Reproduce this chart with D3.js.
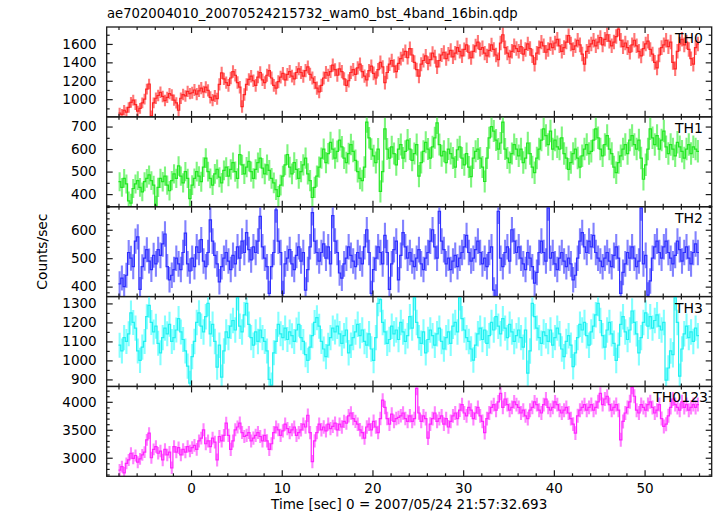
<!DOCTYPE html>
<html><head><meta charset="utf-8">
<script src="https://cdn.jsdelivr.net/npm/d3@7"></script>
<style>
body{margin:0;background:#fff}
svg text{font-family:"DejaVu Sans",sans-serif;fill:#000}
</style>
</head><body><svg id="c" width="717" height="516"></svg>
<script>
// ---- data (0.25 s bins starting at -8 s) ----
const binStart = -8, binWidth = 0.25;
const panelNames = ["TH0", "TH1", "TH2", "TH3", "TH0123"];

const th0 = [
850,835,880,860,910,965,990,940,870,900,960,1000,1110,1165,820,960,
1010,1040,1075,1030,985,1020,1060,1045,990,960,880,1010,1050,1035,1085,1060,
1070,1100,1055,1090,1120,1080,1130,1095,1020,990,1035,1005,1160,1285,1220,1180,
1150,1230,1300,1260,1180,1130,920,1050,1160,1215,1250,1200,1150,1240,1290,1210,
1180,1260,1310,1230,1150,1120,1190,1240,1280,1210,1270,1300,1250,1220,1290,1330,
1290,1250,1310,1350,1270,1230,1180,1120,1080,1150,1230,1290,1260,1300,1370,1320,
1260,1330,1300,1220,1150,1200,1290,1320,1270,1340,1380,1300,1250,1210,1310,1360,
1280,1230,1320,1400,1350,1180,1290,1380,1420,1360,1300,1390,1440,1480,1520,1450,
1550,1480,1400,1320,1250,1380,1420,1470,1390,1430,1500,1460,1350,1420,1480,1510,
1440,1490,1530,1460,1500,1560,1520,1470,1540,1590,1510,1450,1520,1580,1620,1540,
1560,1500,1470,1530,1590,1540,1480,1430,1610,1700,1560,1500,1460,1520,1580,1550,
1520,1570,1490,1540,1600,1550,1470,1380,1500,1560,1620,1580,1510,1540,1600,1560,
1610,1650,1580,1520,1560,1620,1690,1600,1540,1580,1640,1590,1490,1380,1520,1570,
1600,1640,1580,1620,1670,1590,1650,1700,1630,1580,1620,1680,1760,1640,1570,1610,
1560,1510,1590,1640,1580,1520,1470,1550,1600,1630,1540,1490,1400,1340,1480,1560,
1590,1640,1570,1620,1400,1330,1520,1600,1650,1590,1620,1540,1440,1380,1560,1600];

const th1 = [
455,430,470,445,370,360,425,445,460,430,410,455,470,485,460,440,
350,430,470,455,480,440,415,460,490,470,525,480,450,500,470,380,
440,470,500,480,455,520,560,500,470,440,490,510,475,450,505,520,
480,510,540,500,470,575,530,490,520,545,500,470,510,540,560,515,
490,530,505,470,450,420,390,440,480,530,575,520,490,540,510,470,
500,530,560,490,460,385,430,480,520,560,600,540,580,630,600,560,
590,640,610,560,540,580,620,590,550,500,470,460,520,720,650,600,
570,540,600,412,500,690,600,560,610,580,530,600,620,560,590,640,
600,550,580,620,480,540,590,630,600,560,610,650,716,620,570,590,
540,600,580,560,520,597,610,560,530,580,520,478,560,590,600,560,
520,456,560,650,700,680,640,600,627,720,600,560,540,580,620,600,
570,600,540,560,627,580,520,495,560,600,640,690,660,620,680,600,
640,610,600,650,580,560,510,540,580,600,560,520,570,600,620,580,
590,640,690,650,600,570,620,660,600,580,520,495,540,570,600,620,
580,640,660,620,600,640,560,466,530,600,690,650,620,660,600,640,
680,610,580,620,600,570,630,610,590,560,600,620,580,610,600,590];

const th2 = [
410,430,400,440,520,500,470,560,575,390,470,500,530,490,460,510,
480,530,510,550,585,470,424,440,460,500,480,460,520,588,480,455,
500,470,540,520,565,490,470,520,635,560,510,480,417,470,500,520,
490,460,510,480,540,500,560,520,590,530,494,540,520,560,647,540,
500,470,376,470,520,670,560,520,376,480,500,530,480,460,510,540,
490,520,388,460,540,660,560,520,490,520,550,500,540,480,650,560,
520,448,430,480,500,540,510,490,470,520,500,480,540,600,520,376,
460,500,540,520,480,580,520,390,480,530,560,424,510,590,540,500,
520,490,470,500,530,480,460,500,520,560,600,540,500,665,560,530,
480,500,460,490,510,470,500,520,540,580,520,490,500,530,560,520,
480,500,470,520,540,388,363,665,500,470,520,540,490,600,560,520,
540,500,480,460,520,500,470,412,450,520,560,520,490,677,500,520,
480,460,500,520,490,470,500,480,424,440,500,560,590,540,520,560,
540,580,520,500,490,470,500,520,490,470,510,540,500,376,450,480,
520,500,540,500,470,490,677,480,510,370,420,500,540,560,520,500,
540,560,520,500,480,510,560,530,490,520,540,500,480,520,550,520];

const th3 = [
1080,1050,1120,1100,1140,1250,1200,1170,1050,1000,1070,1100,1230,1290,1200,1150,
1180,1090,1040,1120,1170,1140,1190,1100,1120,1160,1220,1150,1110,1050,970,880,
1020,1100,1200,1250,1180,1150,1230,1300,1140,1190,1100,965,1080,912,1050,1150,
1120,1180,1210,1160,1330,1180,1150,1240,1300,1190,1120,1080,1150,1100,1160,1120,
1100,1050,900,870,1040,1100,1190,1140,1120,1170,1110,1150,1130,1100,1160,1190,
1120,1100,1030,1000,1070,1130,1200,1225,1180,1100,1060,1020,1080,1120,1170,1150,
1180,1140,1090,1130,1160,1040,1080,1120,1150,1190,1130,1160,1100,1080,1140,1060,
1000,1120,1300,1320,1200,1150,1090,1110,1180,1140,1160,1110,1200,1150,1100,1130,
1230,1170,1330,1200,1120,1090,1150,1040,1110,1160,1130,1080,1140,1170,1100,1060,
1120,1150,1090,1180,1200,1150,1330,1220,1160,1120,1100,1060,1002,1080,1140,1170,
1110,1160,1090,1130,1200,1160,1230,1180,1140,1220,1170,1120,1190,1150,1100,1130,
1160,1120,1070,1160,933,1050,1300,1230,1170,1120,1090,1150,1130,1100,1160,1080,
1120,1170,1140,1060,1020,1100,1130,1080,967,1040,1120,1190,1160,1200,1130,1080,
1150,1180,1240,1300,1210,1130,1070,1160,1200,1140,1090,1000,1080,1190,1230,1150,
1110,1160,1260,1200,1140,1040,1120,1200,1250,1180,1230,1170,1210,1240,1180,1160,
1200,896,960,1050,1030,1330,1200,917,1060,1140,1180,1120,1150,1100,1170,1130];

const th0123 = [
2780,2840,2730,2900,2960,3080,2990,3040,2920,2980,3050,3100,3320,3440,3000,3150,
3200,3080,3120,2960,3150,3050,3100,2820,3200,3100,3180,3050,3150,3100,3200,3120,
3180,3220,3150,3300,3350,3500,3250,3300,3200,3350,3280,2960,3380,3300,3400,3620,
3400,3150,3300,3500,3550,3620,3450,3380,3400,3450,3300,3350,3400,3450,3380,3300,
3400,3300,3150,3250,3450,3550,3500,3400,3480,3600,3520,3450,3500,3550,3400,3450,
3500,3600,3550,3760,3450,2930,3300,3450,3600,3500,3550,3480,3600,3520,3560,3620,
3500,3600,3550,3650,3620,3750,3800,3700,3650,3600,3500,3450,3350,3550,3600,3500,
3650,3550,3450,3700,4030,3900,3700,3600,3780,3650,3700,3720,3750,3800,3700,3650,
3750,3650,3700,4240,3800,3650,3750,3700,3350,3600,3700,3800,3650,3700,3750,3600,
3700,3550,3650,3750,3800,3700,3850,3950,3800,3750,3900,3850,3700,3800,3900,3750,
3650,3450,3700,3800,3900,3950,3850,4000,4150,3900,4050,3950,3850,3900,4000,3950,
3900,3800,3850,3750,3700,3850,3900,4000,3950,3850,3800,3950,4050,3900,3850,3900,
4000,3950,3850,3800,3850,3900,3800,3700,3600,3440,3750,3850,3900,3950,3850,3900,
3950,3850,3900,4000,4150,3950,4050,4100,3950,3850,3900,3950,3850,3320,3650,3800,
3900,4000,4260,4100,3850,3800,3950,3900,3850,3950,4000,3900,3800,3850,3950,3700,
3560,3600,3750,3900,4050,3950,3900,3850,4000,3900,3950,3850,3900,3950,3900,3950];

// error half-widths, one per 4-s segment (16 bins)
const errTH0 = [58,62,66,68,70,71,72,74,76,77,78,78,79,79,79,79];
const errTH1 = [42,43,44,45,46,47,48,49,49,49,49,50,50,50,50,50];
const errTH2 = [44,45,45,45,45,45,45,45,45,45,45,45,45,45,45,45];
const errTH3 = [66,66,67,67,66,66,67,67,67,67,67,67,67,67,67,67];
const errTH0123 = [106,111,115,117,118,119,120,121,122,123,124,124,124,125,125,125];

const yTicksTH0 = [1000, 1200, 1400, 1600];
const yTicksTH1 = [400, 500, 600, 700];
const yTicksTH2 = [400, 500, 600];
const yTicksTH3 = [900, 1000, 1100, 1200, 1300];
const yTicksTH0123 = [3000, 3500, 4000];
const xTicks = [0, 10, 20, 30, 40, 50];

const titleText = "ae702004010_20070524215732_wam0_bst_4band_16bin.qdp";
const xLabel = "Time [sec] 0 = 2007/05/24 21:57:32.693";
const yLabel = "Counts/sec";

// ---- layout / style ----
const L = 106.7, R = 711.7, T = 27, B = 476.3;
const PH = (B - T) / 5;
const panels = [
  {name: panelNames[0], vals: th0, errs: errTH0, dom: [808, 1784], ticks: yTicksTH0, minor: 100, col: "#ff2424", ecol: "#ff7676", lx: 703},
  {name: panelNames[1], vals: th1, errs: errTH1, dom: [344, 743], ticks: yTicksTH1, minor: 50, col: "#22e622", ecol: "#7ef57e", lx: 703},
  {name: panelNames[2], vals: th2, errs: errTH2, dom: [365, 681], ticks: yTicksTH2, minor: 20, col: "#2e2eff", ecol: "#8282ff", lx: 703},
  {name: panelNames[3], vals: th3, errs: errTH3, dom: [863, 1336], ticks: yTicksTH3, minor: 50, col: "#22f0f0", ecol: "#82ffff", lx: 703},
  {name: panelNames[4], vals: th0123, errs: errTH0123, dom: [2668, 4275], ticks: yTicksTH0123, minor: 100, col: "#ff24ff", ecol: "#ff82ff", lx: 708}
];

const svg = d3.select("#c");
svg.append("rect").attr("width", 717).attr("height", 516).attr("fill", "#fff");

const x = d3.scaleLinear().domain([-9.3, 57.4]).range([L, R]);
const xMinor = d3.range(-8, 57, 2).filter(v => v % 10 !== 0);
const frameCol = "#1a1a1a";

function styleAxis(g) {
  g.select(".domain").remove();
  g.selectAll(".tick line").attr("stroke", frameCol).attr("stroke-width", 1.2);
  g.selectAll(".tick text").style("font-size", "13.5px").attr("fill", "#000");
}

panels.forEach((p, k) => {
  const y0 = T + k * PH, y1 = y0 + PH;
  const y = d3.scaleLinear().domain(p.dom).range([y1, y0]);
  const clipId = "clip" + k;
  svg.append("clipPath").attr("id", clipId)
    .append("rect").attr("x", L).attr("y", y0).attr("width", R - L).attr("height", PH);

  const g = svg.append("g").attr("clip-path", `url(#${clipId})`);
  // error bars
  g.selectAll("line.err").data(p.vals).join("line")
    .attr("class", "err")
    .attr("x1", (v, i) => x(binStart + (i + 0.5) * binWidth))
    .attr("x2", (v, i) => x(binStart + (i + 0.5) * binWidth))
    .attr("y1", (v, i) => y(v - p.errs[Math.floor(i / 16)]))
    .attr("y2", (v, i) => y(v + p.errs[Math.floor(i / 16)]))
    .attr("stroke", p.ecol).attr("stroke-width", 2.1);
  // step line
  const pts = p.vals.map((v, i) => [binStart + i * binWidth, v]);
  pts.push([binStart + p.vals.length * binWidth, p.vals[p.vals.length - 1]]);
  const line = d3.line().x(d => x(d[0])).y(d => y(d[1])).curve(d3.curveStepAfter);
  g.append("path").attr("d", line(pts)).attr("fill", "none")
    .attr("stroke", p.col).attr("stroke-width", 1.2);

  // y axes (inward ticks both sides)
  const minorVals = d3.range(Math.ceil(p.dom[0] / p.minor) * p.minor, p.dom[1], p.minor)
    .filter(v => !p.ticks.includes(v));
  svg.append("g").attr("transform", `translate(${L},0)`)
    .call(d3.axisLeft(y).tickValues(p.ticks).tickSize(-6).tickPadding(10).tickFormat(d3.format("d")))
    .call(styleAxis);
  svg.append("g").attr("transform", `translate(${L},0)`)
    .call(d3.axisLeft(y).tickValues(minorVals).tickSize(-3).tickFormat(""))
    .call(styleAxis);
  svg.append("g").attr("transform", `translate(${R},0)`)
    .call(d3.axisRight(y).tickValues(p.ticks).tickSize(-6).tickFormat(""))
    .call(styleAxis);
  svg.append("g").attr("transform", `translate(${R},0)`)
    .call(d3.axisRight(y).tickValues(minorVals).tickSize(-3).tickFormat(""))
    .call(styleAxis);

  // x ticks top/bottom of each panel
  svg.append("g").attr("transform", `translate(0,${y0})`)
    .call(d3.axisTop(x).tickValues(xTicks).tickSize(-6).tickFormat("")).call(styleAxis);
  svg.append("g").attr("transform", `translate(0,${y0})`)
    .call(d3.axisTop(x).tickValues(xMinor).tickSize(-3).tickFormat("")).call(styleAxis);
  const isLast = k === panels.length - 1;
  svg.append("g").attr("transform", `translate(0,${y1})`)
    .call(d3.axisBottom(x).tickValues(xTicks).tickSize(-6).tickPadding(7)
      .tickFormat(isLast ? d3.format("d") : ""))
    .call(styleAxis);
  svg.append("g").attr("transform", `translate(0,${y1})`)
    .call(d3.axisBottom(x).tickValues(xMinor).tickSize(-3).tickFormat("")).call(styleAxis);

  // panel frame
  svg.append("rect").attr("x", L).attr("y", y0).attr("width", R - L).attr("height", PH)
    .attr("fill", "none").attr("stroke", frameCol).attr("stroke-width", 1.3);

  // panel label
  svg.append("text").attr("x", p.lx).attr("y", y0 + 16).attr("text-anchor", "end")
    .style("font-size", "14px").text(p.name);
});

svg.append("text").attr("x", 107).attr("y", 18).style("font-size", "13.2px").text(titleText);
svg.append("text").attr("x", (L + R) / 2).attr("y", 509).attr("text-anchor", "middle")
  .style("font-size", "13.5px").text(xLabel);
svg.append("text").attr("transform", `translate(47,${(T + B) / 2}) rotate(-90)`)
  .attr("text-anchor", "middle").style("font-size", "13.8px").text(yLabel);
</script>
</body></html>
